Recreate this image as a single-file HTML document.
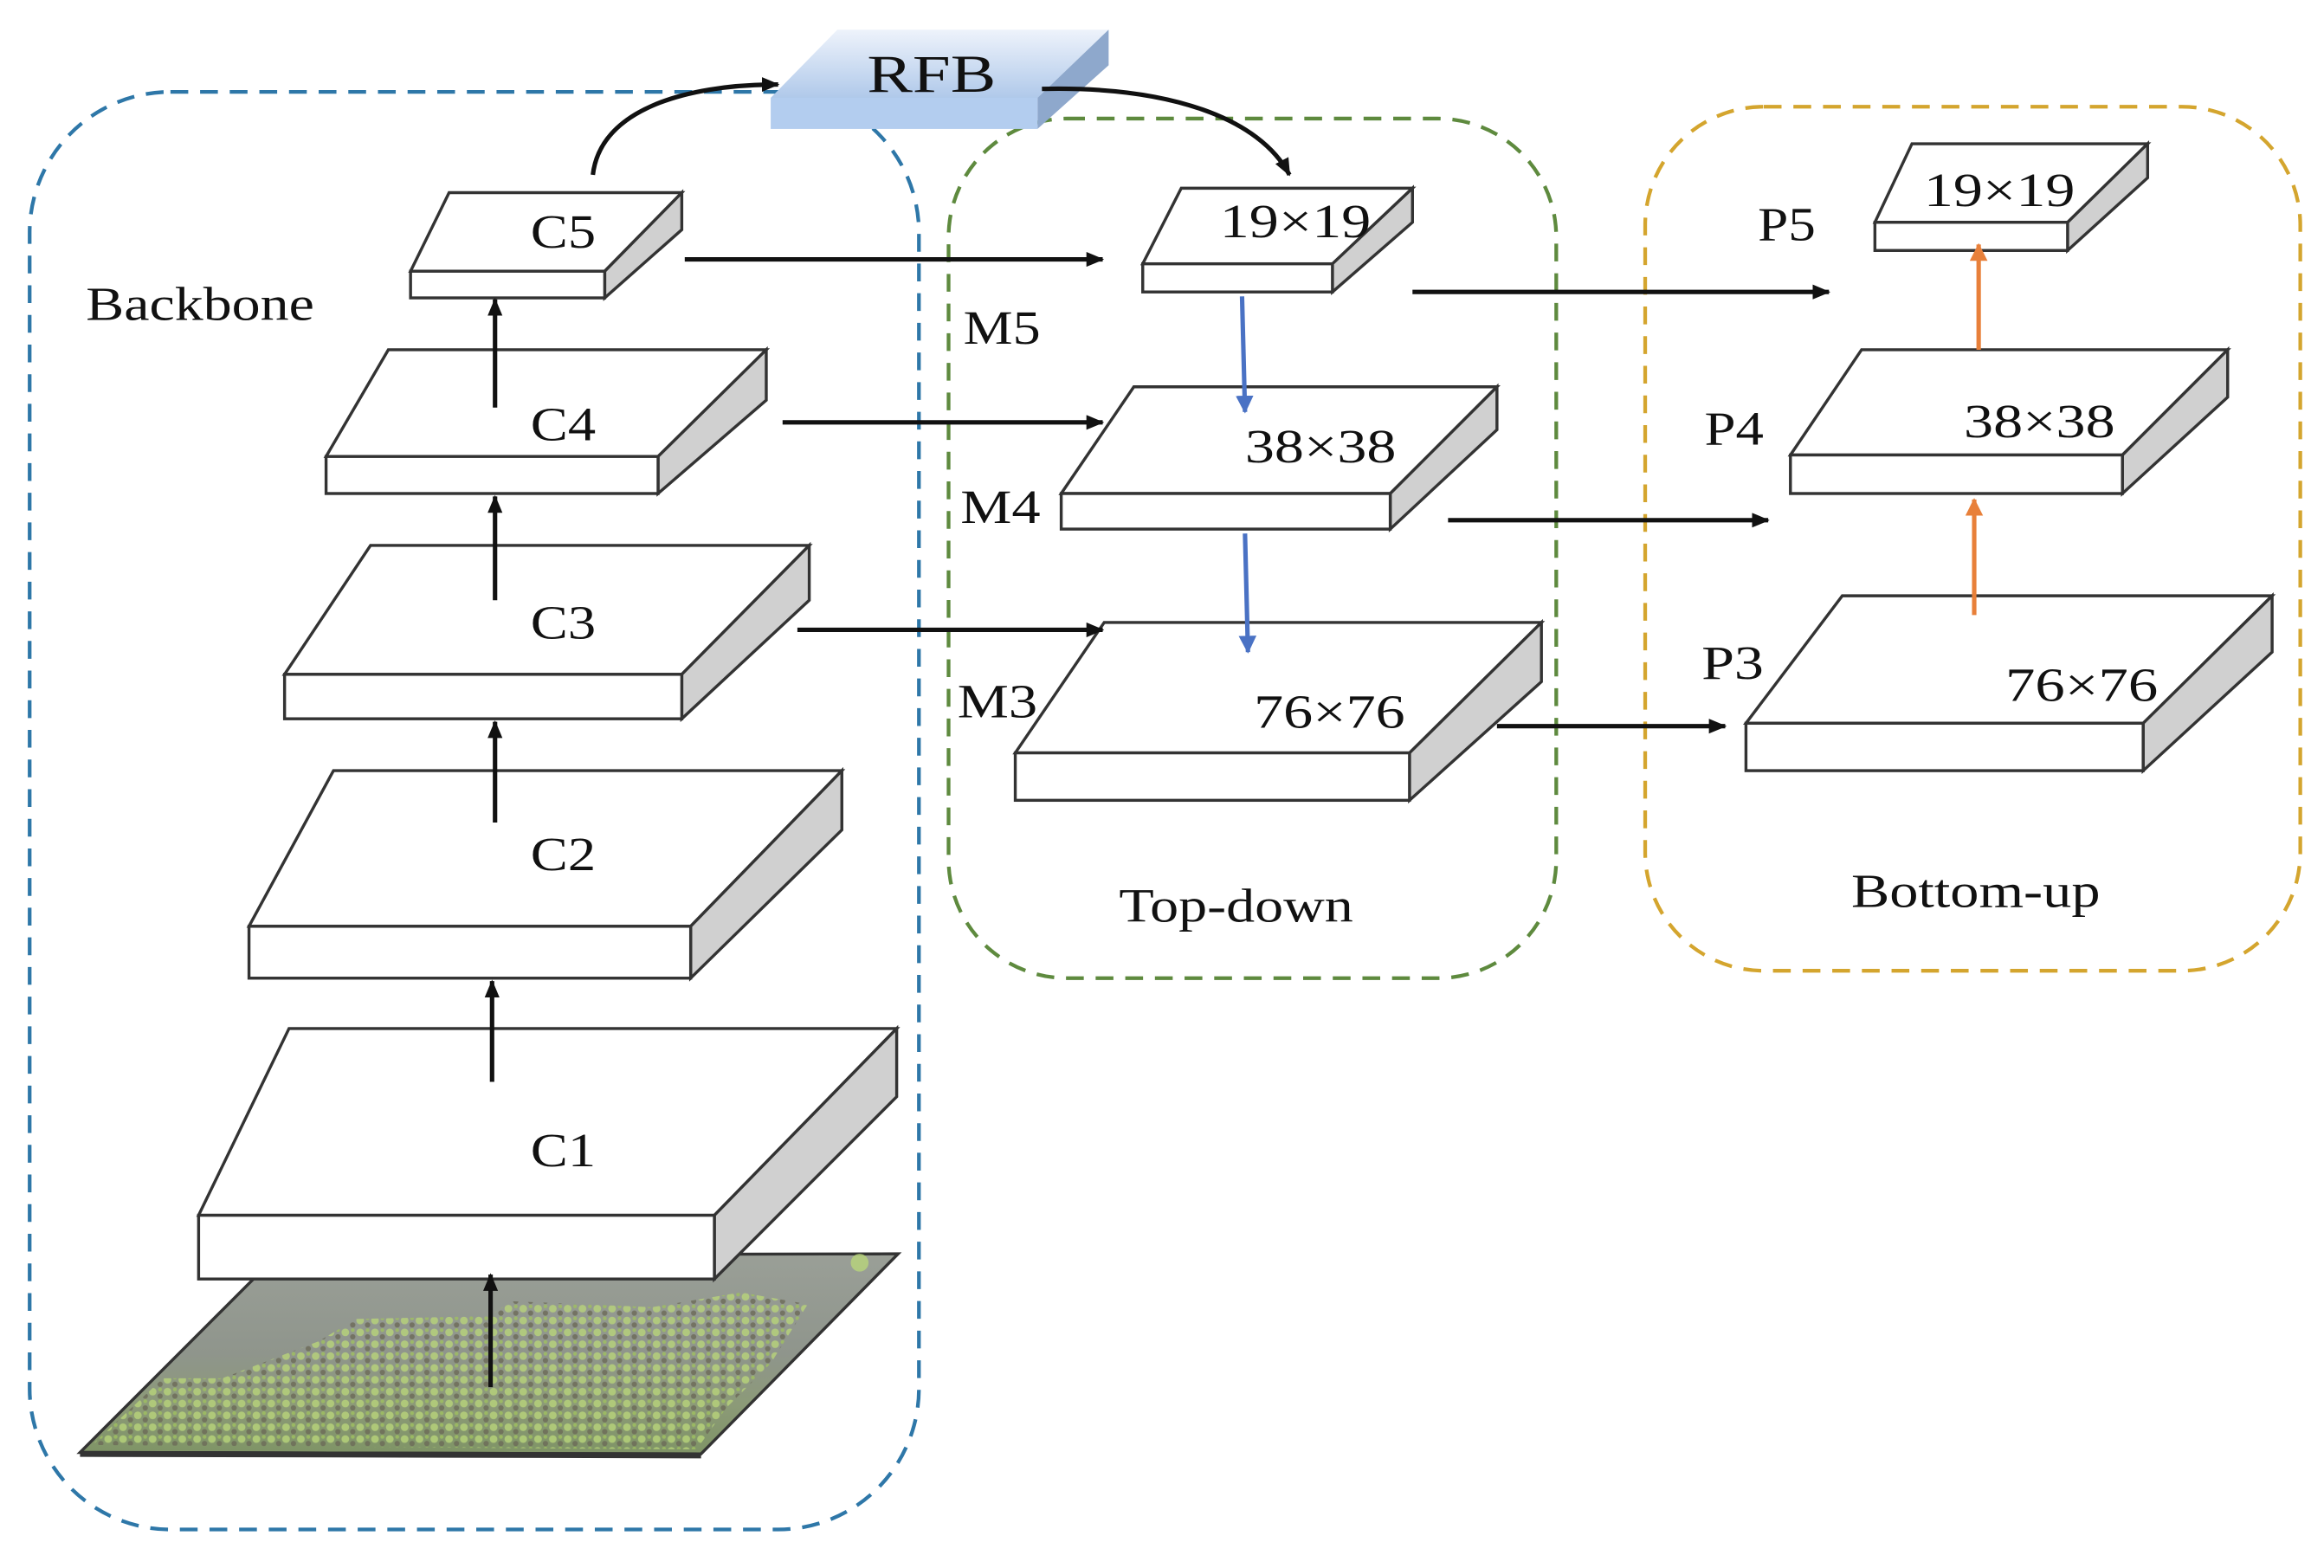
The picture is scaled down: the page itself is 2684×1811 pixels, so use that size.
<!DOCTYPE html>
<html><head><meta charset="utf-8"><style>
html,body{margin:0;padding:0;background:#fff;}
svg{display:block;}
text{font-family:"Liberation Serif",serif;fill:#111;}
</style></head><body>
<svg width="2684" height="1811" viewBox="0 0 1568 1058" preserveAspectRatio="none" xmlns="http://www.w3.org/2000/svg">
<defs>
<marker id="ak" markerWidth="12" markerHeight="10" refX="11" refY="5" orient="auto" markerUnits="userSpaceOnUse"><path d="M0,0 L12,5 L0,10 z" fill="#111"/></marker>
<marker id="ab" markerWidth="12" markerHeight="12" refX="11" refY="6" orient="auto" markerUnits="userSpaceOnUse"><path d="M0,0 L12,6 L0,12 z" fill="#4a72c4"/></marker>
<marker id="ao" markerWidth="12" markerHeight="12" refX="11" refY="6" orient="auto" markerUnits="userSpaceOnUse"><path d="M0,0 L12,6 L0,12 z" fill="#e8803a"/></marker>
<linearGradient id="rfbt" x1="0" y1="0" x2="0" y2="1"><stop offset="0" stop-color="#eef3fb"/><stop offset="1" stop-color="#b0c9ea"/></linearGradient>
<linearGradient id="img" x1="0" y1="0" x2="0" y2="1"><stop offset="0" stop-color="#9a9f97"/><stop offset="0.5" stop-color="#8f958c"/><stop offset="0.75" stop-color="#8c9a78"/><stop offset="1" stop-color="#7f9466"/></linearGradient>
<pattern id="dots" width="10" height="8" patternUnits="userSpaceOnUse"><circle cx="3" cy="3" r="2.6" fill="#b8d47a"/><circle cx="8" cy="6" r="1.8" fill="#6c6a58"/><circle cx="8" cy="1.5" r="1.3" fill="#9fc060"/></pattern>
</defs>

<rect x="20" y="62" width="600" height="970" rx="95" fill="none" stroke="#2e77a8" stroke-width="2.5" stroke-dasharray="12,8"/>
<rect x="640" y="80" width="410" height="580" rx="80" fill="none" stroke="#5e8a3e" stroke-width="2.5" stroke-dasharray="12,8"/>
<rect x="1110" y="72" width="442" height="583" rx="80" fill="none" stroke="#d4a52e" stroke-width="2.5" stroke-dasharray="12,8"/>

<polygon points="54,980 473,981 606,846 187,847" fill="url(#img)" stroke="#333" stroke-width="2"/>
<polygon points="62,975 110,930 150,930 215,905 240,890 330,888 345,878 440,882 500,872 545,880 520,920 490,950 470,978" fill="url(#dots)" opacity="0.8"/>
<circle cx="580" cy="852" r="6" fill="#b8d47a" opacity="0.8"/>
<line x1="54" y1="981" x2="473" y2="982" stroke="#333" stroke-width="4"/>

<g stroke="#333" stroke-width="2">
<polygon points="277,183 303,130 460,130 408,183" fill="#fff"/><polygon points="408,183 460,130 460,155 408,201" fill="#d0d0d0"/><rect x="277" y="183" width="131" height="18" fill="#fff"/>
<polygon points="220,308 262,236 517,236 444,308" fill="#fff"/><polygon points="444,308 517,236 517,270 444,333" fill="#d0d0d0"/><rect x="220" y="308" width="224" height="25" fill="#fff"/>
<polygon points="192,455 250,368 546,368 460,455" fill="#fff"/><polygon points="460,455 546,368 546,405 460,485" fill="#d0d0d0"/><rect x="192" y="455" width="268" height="30" fill="#fff"/>
<polygon points="168,625 225,520 568,520 466,625" fill="#fff"/><polygon points="466,625 568,520 568,560 466,660" fill="#d0d0d0"/><rect x="168" y="625" width="298" height="35" fill="#fff"/>
<polygon points="134,820 195,694 605,694 482,820" fill="#fff"/><polygon points="482,820 605,694 605,740 482,863" fill="#d0d0d0"/><rect x="134" y="820" width="348" height="43" fill="#fff"/>
<polygon points="771,178 797,127 953,127 899,178" fill="#fff"/><polygon points="899,178 953,127 953,150 899,197" fill="#d0d0d0"/><rect x="771" y="178" width="128" height="19" fill="#fff"/>
<polygon points="716,333 765,261 1010,261 938,333" fill="#fff"/><polygon points="938,333 1010,261 1010,290 938,357" fill="#d0d0d0"/><rect x="716" y="333" width="222" height="24" fill="#fff"/>
<polygon points="685,508 745,420 1040,420 951,508" fill="#fff"/><polygon points="951,508 1040,420 1040,460 951,540" fill="#d0d0d0"/><rect x="685" y="508" width="266" height="32" fill="#fff"/>
<polygon points="1265,150 1290,97 1449,97 1395,150" fill="#fff"/><polygon points="1395,150 1449,97 1449,120 1395,169" fill="#d0d0d0"/><rect x="1265" y="150" width="130" height="19" fill="#fff"/>
<polygon points="1208,307 1256,236 1503,236 1432,307" fill="#fff"/><polygon points="1432,307 1503,236 1503,268 1432,333" fill="#d0d0d0"/><rect x="1208" y="307" width="224" height="26" fill="#fff"/>
<polygon points="1178,488 1243,402 1533,402 1446,488" fill="#fff"/><polygon points="1446,488 1533,402 1533,440 1446,520" fill="#d0d0d0"/><rect x="1178" y="488" width="268" height="32" fill="#fff"/>
</g>

<polygon points="520,66 565,20 748,20 700,66" fill="url(#rfbt)"/>
<polygon points="700,66 748,20 748,44 700,87" fill="#8ea8cc"/>
<rect x="520" y="66" width="180" height="21" fill="#b3cdef"/>
<text x="585" y="62" font-size="36" textLength="87" lengthAdjust="spacingAndGlyphs">RFB</text>

<g stroke="#111" stroke-width="3" fill="none" marker-end="url(#ak)">
<line x1="331" y1="936" x2="331" y2="860"/>
<line x1="332" y1="730" x2="332" y2="662"/>
<line x1="334" y1="555" x2="334" y2="487"/>
<line x1="334" y1="405" x2="334" y2="335"/>
<line x1="334" y1="275" x2="334" y2="202"/>
<path d="M400,118 C405,75 460,57 525,57"/>
<path d="M703,60 C790,58 850,80 870,118"/>
<line x1="462" y1="175" x2="744" y2="175"/>
<line x1="528" y1="285" x2="744" y2="285"/>
<line x1="538" y1="425" x2="744" y2="425"/>
<line x1="953" y1="197" x2="1234" y2="197"/>
<line x1="977" y1="351" x2="1193" y2="351"/>
<line x1="1010" y1="490" x2="1164" y2="490"/>
</g>
<g stroke="#4a72c4" stroke-width="3" marker-end="url(#ab)">
<line x1="838" y1="200" x2="840" y2="278"/>
<line x1="840" y1="360" x2="842" y2="440"/>
</g>
<g stroke="#e8803a" stroke-width="3" marker-end="url(#ao)">
<line x1="1335" y1="236" x2="1335" y2="165"/>
<line x1="1332" y1="415" x2="1332" y2="337"/>
</g>

<g font-size="32" lengthAdjust="spacingAndGlyphs">
<text x="58" y="216" textLength="154" lengthAdjust="spacingAndGlyphs">Backbone</text>
<text x="358" y="167" textLength="44" lengthAdjust="spacingAndGlyphs">C5</text>
<text x="358" y="297" textLength="44" lengthAdjust="spacingAndGlyphs">C4</text>
<text x="358" y="431" textLength="44" lengthAdjust="spacingAndGlyphs">C3</text>
<text x="358" y="587" textLength="44" lengthAdjust="spacingAndGlyphs">C2</text>
<text x="358" y="787" textLength="44" lengthAdjust="spacingAndGlyphs">C1</text>
<text x="650" y="232" textLength="52" lengthAdjust="spacingAndGlyphs">M5</text>
<text x="648" y="353" textLength="54" lengthAdjust="spacingAndGlyphs">M4</text>
<text x="646" y="484" textLength="54" lengthAdjust="spacingAndGlyphs">M3</text>
<text x="823" y="160" textLength="102" lengthAdjust="spacingAndGlyphs">19×19</text>
<text x="840" y="312" textLength="102" lengthAdjust="spacingAndGlyphs">38×38</text>
<text x="846" y="491" textLength="102" lengthAdjust="spacingAndGlyphs">76×76</text>
<text x="1186" y="162" textLength="39" lengthAdjust="spacingAndGlyphs">P5</text>
<text x="1150" y="300" textLength="40" lengthAdjust="spacingAndGlyphs">P4</text>
<text x="1148" y="458" textLength="42" lengthAdjust="spacingAndGlyphs">P3</text>
<text x="1298" y="139" textLength="102" lengthAdjust="spacingAndGlyphs">19×19</text>
<text x="1325" y="295" textLength="102" lengthAdjust="spacingAndGlyphs">38×38</text>
<text x="1353" y="473" textLength="103" lengthAdjust="spacingAndGlyphs">76×76</text>
<text x="755" y="622" textLength="158" lengthAdjust="spacingAndGlyphs">Top-down</text>
<text x="1249" y="612" textLength="168" lengthAdjust="spacingAndGlyphs">Bottom-up</text>
</g>
</svg>
</body></html>
